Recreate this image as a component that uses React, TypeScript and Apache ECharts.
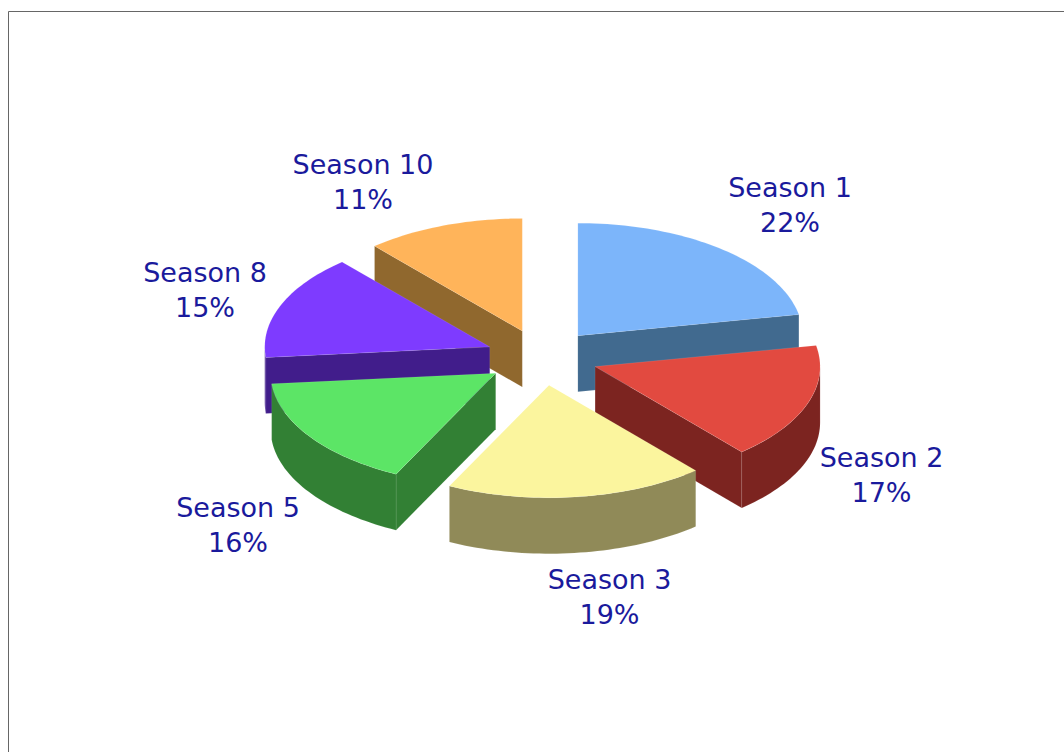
import React, { useEffect, useRef } from "react";
import * as echarts from "echarts";

const seasons = ["Season 1", "Season 2", "Season 3", "Season 5", "Season 8", "Season 10"];
const shares = [22.0, 16.7, 18.6, 16.2, 15.1, 11.4];
const topColors = ["#7cb5fa", "#e24a40", "#fbf59e", "#5ce566", "#7e3bff", "#ffb45a"];
const sideColors = ["#416a8f", "#7c2420", "#908a58", "#328034", "#411d8b", "#90682e"];

// Back-to-front order of the wedges, so nearer ones cover farther ones.
const paintOrder = [5, 0, 4, 1, 3, 2];
// Label centres, relative to the pie centre.
const labelOffsets = [
  [248, -152.5],
  [339.5, 117.5],
  [67.5, 239.5],
  [-304, 167.5],
  [-337, -67.5],
  [-179, -175.5],
];

const CX = 542;
const CY = 357.3;
const RX = 225;
const RY = 112.5;
const DEPTH = 56;
const EXPLODE = 0.25;
const TOTAL = shares.reduce((a, b) => a + b, 0);

const rimPoint = (ox: number, oy: number, deg: number): number[] => {
  const t = (deg * Math.PI) / 180;
  return [ox + RX * Math.sin(t), oy - RY * Math.cos(t)];
};

const arc = (ox: number, oy: number, from: number, to: number): number[][] => {
  const steps = Math.max(2, Math.ceil(Math.abs(to - from) / 1.5));
  const out: number[][] = [];
  for (let i = 0; i <= steps; i++) out.push(rimPoint(ox, oy, from + ((to - from) * i) / steps));
  return out;
};

const lowered = (pts: number[][]) => pts.map(([x, y]) => [x, y + DEPTH]);

function renderWedge(params: any, api: any) {
  const i = params.dataIndex;
  const before = shares.slice(0, i).reduce((a, b) => a + b, 0);
  const start = (before / TOTAL) * 360;
  const end = start + (api.value(0) / TOTAL) * 360;
  const mid = (((start + end) / 2) * Math.PI) / 180;
  const ox = CX + EXPLODE * RX * Math.sin(mid);
  const oy = CY - EXPLODE * RY * Math.cos(mid);
  const order = paintOrder.indexOf(i) * 10;
  const apex = [ox, oy];
  const side = {
    fill: sideColors[i],
    stroke: "rgba(255,255,255,0.16)",
    lineWidth: 0.5,
  };
  const children: any[] = [];

  // Straight cut faces that turn towards the viewer.
  const cutFace = (deg: number) => {
    const edge = [apex, rimPoint(ox, oy, deg)];
    children.push({
      type: "polygon",
      z2: order + 1,
      shape: { points: [...edge, ...lowered(edge).reverse()] },
      style: side,
    });
  };
  if (start >= 180 && start < 360) cutFace(start);
  if (end > 0 && end < 180) cutFace(end);

  // Outer wall: only the front half of the rim shows.
  const wallFrom = Math.max(start, 90);
  const wallTo = Math.min(end, 270);
  if (wallTo > wallFrom) {
    const edge = arc(ox, oy, wallFrom, wallTo);
    children.push({
      type: "polygon",
      z2: order + 2,
      shape: { points: [...edge, ...lowered(edge).reverse()] },
      style: side,
    });
  }

  children.push({
    type: "polygon",
    z2: order + 3,
    shape: { points: [apex, ...arc(ox, oy, start, end)] },
    style: {
      fill: topColors[i],
      stroke: "rgba(255,255,255,0.2)",
      lineWidth: 0.5,
    },
  });

  const [dx, dy] = labelOffsets[i];
  children.push({
    type: "text",
    z2: 200,
    x: CX + dx,
    y: CY + dy,
    style: {
      text: `${seasons[i]}\n${Math.round((api.value(0) / TOTAL) * 100)}%`,
      fill: "#1a1a9c",
      font: '27px "DejaVu Sans"',
      lineHeight: 35,
      align: "center",
      verticalAlign: "middle",
    },
  });

  return { type: "group", children };
}

export default function App() {
  const ref = useRef<HTMLDivElement>(null);

  useEffect(() => {
    const chart = echarts.init(ref.current, null, { renderer: "svg" });
    chart.setOption({
      animation: false,
      backgroundColor: "#ffffff",
      graphic: [
        { type: "line", shape: { x1: 8.5, y1: 11.5, x2: 1064, y2: 11.5 }, style: { stroke: "#666666", lineWidth: 1 } },
        { type: "line", shape: { x1: 8.5, y1: 11.5, x2: 8.5, y2: 752 }, style: { stroke: "#666666", lineWidth: 1 } },
      ],
      series: [
        {
          type: "custom",
          coordinateSystem: "none",
          renderItem: renderWedge,
          data: shares.map((v, i) => ({ name: seasons[i], value: [v] })),
        },
      ],
    });
    return () => chart.dispose();
  }, []);

  return <div ref={ref} style={{ position: "fixed", left: 0, top: 0, width: 1064, height: 752 }} />;
}
